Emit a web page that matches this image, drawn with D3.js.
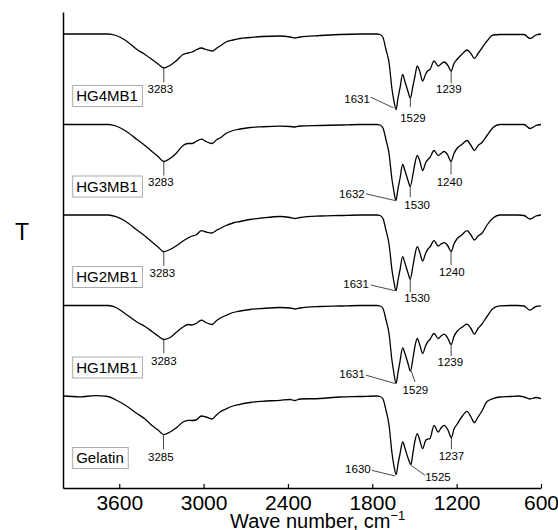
<!DOCTYPE html>
<html>
<head>
<meta charset="utf-8">
<script src="https://cdn.jsdelivr.net/npm/d3@7/dist/d3.min.js"></script>
<style>
  html, body { margin: 0; padding: 0; background: #fff; }
  svg { display: block; }
  text { font-family: "Liberation Sans", Arial, Helvetica, sans-serif; fill: #000; }
</style>
</head>
<body>
<svg id="chart" width="558" height="530"></svg>
<script>
// FTIR spectra of gelatin and the HGxMB1 hydrogels, stacked with a vertical offset.

// Wavenumber grid (cm-1) shared by all spectra
const wavenumbers = [4000,3879,3772,3680,3623,3559,3474,3417,3367,3324,3282,3239,3196,3146,3111,3082,3054,3015,2983,2940,2905,2883,2841,2791,2741,2670,2585,2456,2385,2350,2314,2172,2030,1887,1767,1745,1724,1703,1681,1660,1646,1631,1617,1603,1584,1568,1546,1529,1511,1497,1480,1461,1442,1420,1404,1390,1361,1331,1311,1288,1262,1239,1219,1198,1164,1126,1098,1074,1048,1020,984,941,892,820,763,721,678,636,600];

// Transmittance (a.u., baseline ~100) for each sample on the grid above
const tGelatin = [100,99.2,100.3,99.5,96,91,82.5,77,70.5,66,61.4,64,68,74,75.7,75.5,76,80,79,77,81.5,84,87,90,91.7,93.5,94.7,95.7,96.5,95.5,97,97.5,99,99.5,100,99.5,97,86,71,43,30,21.4,32,42,54,48,38,31.4,43,55,62.4,55,47.4,55.7,57,57.4,70.7,64,68,70.7,66,58.4,67,71.5,79,84.7,79,73.4,79,85,94.5,97.4,99,99.5,100,99,97,98.5,97.4];
const tHG1MB1 = [100,100,100,100,98,92,83.5,79,74,69.5,66,68,73,78.5,81,80.5,82,85.3,83,81,85.3,87.3,90,93,94.5,96,97,98,97.5,96.5,97.5,99,99.5,100,100,99.5,97,86,72,45,32,22,33,44,57.6,52,42,34.3,47,59,67,60,52,60,64,66,72,67,69.5,71.3,67,61,69,74,78,81.3,77,71.3,77,81.5,89,97,99.6,100,100,99.5,95.3,99,99.6];
const tHG2MB1 = [100,100,100,100,98.3,94,85,79,73,68,63.3,65.5,69,74,77,79,80,84.3,83,82,85,86.5,89.5,92,93.5,95.5,97,98.5,97.5,96.5,97.5,99,99.5,100,100,99.5,96.5,85,71,45,33,24.3,35,45,58.3,52,42,36,49,60,68.3,62,54,62,66,68,74.3,69,71,72.3,69,63.3,71,76,80,84.3,80,75,79,81.7,90,97,100,100,100,99.5,96,99,100];
const tHG3MB1 = [100,100,100,100,98.5,94,85,79,73,68,63,66,71,79,81,81,83,85.3,83,81,85,86.5,91,94,95.5,97,97.7,98.3,98,97.5,98.5,99,99.5,100,100,99.5,96.5,85,71,45,33,24,36,46,60,54,44,38,50,61,69,63,54,62,65,67,74,69,71,73,69,63,71,76,80,84,79,74,79,82,89,97,100,100,100,100,96,99,100];
const tHG4MB1 = [100,100,100,100,98.5,94,84.5,79.5,74.5,70,66,68.5,73,79.5,81,82,84,86,84.5,83,86,88,92,94,95.5,96.5,97.5,98,97,96,97,98.5,99.5,100,100,99.5,96.5,84.5,71.5,45,33,24.5,36,46,59.5,52.5,42.5,36,48,57.5,68,62,53,60,63.5,64.5,73,68,70,72,68.5,63,70.5,74.5,79.5,84,80.5,75.5,80.5,86,93,99,99.5,99.5,99.5,99.5,95.5,99,100];

// Labelled band positions (cm-1) for each sample
const peaksGelatin = [3285, 1630, 1525, 1237];
const peaksHG1MB1 = [3283, 1631, 1529, 1239];
const peaksHG2MB1 = [3283, 1631, 1530, 1240];
const peaksHG3MB1 = [3283, 1632, 1530, 1240];
const peaksHG4MB1 = [3283, 1631, 1529, 1239];

const sampleNames = ["Gelatin", "HG1MB1", "HG2MB1", "HG3MB1", "HG4MB1"];
const stackOffsets = [0, 90.5, 181, 271.5, 362];
const xTicks = [3600, 3000, 2400, 1800, 1200, 600];

// Annotation placement, relative to the band minimum: leader [x1,y1,x2,y2], text [x,y]
const annotationLayout = {
  "Gelatin": [
    {line: [0, 0, 0, 14.7], text: [-2.7, 26.2]},
    {line: [-1, 1.4, -24.4, -4.3], text: [-38.3, -1.3]},
    {line: [0, 0.7, 14, 10.7], text: [27, 16.4]},
    {line: [0, 0, 0, 11.7], text: [0, 22.7]}
  ],
  "HG1MB1": [
    {line: [0, 0, 0, 13.7], text: [0, 25.2]},
    {line: [-1, 0, -30, -8.3], text: [-44, -5.3]},
    {line: [1, 0, 4.6, 10.7], text: [5, 23]},
    {line: [0, 0, 0, 11.7], text: [-0.8, 21.7]}
  ],
  "HG2MB1": [
    {line: [0, 0, 0, 14.3], text: [-1.5, 24.8]},
    {line: [-1, 0, -25.3, -5.7], text: [-40, -2.7]},
    {line: [0, 0, 0, 13], text: [6.9, 22.7]},
    {line: [0, 0, 0, 13.3], text: [0.8, 24.3]}
  ],
  "HG3MB1": [
    {line: [0, 0, 0, 14], text: [-3, 24]},
    {line: [-1, 0, -30, -6.7], text: [-44, -3]},
    {line: [0, 0, 0, 10.7], text: [6.9, 22.5]},
    {line: [0, 0, 0, 13], text: [-1.5, 24]}
  ],
  "HG4MB1": [
    {line: [0, 0, 0, 14.5], text: [-3.5, 24.7]},
    {line: [-2.7, -1.7, -25.3, -12.3], text: [-39, -7]},
    {line: [0, 0, 0, 9], text: [2.6, 24.2]},
    {line: [0, 0, 0, 12.3], text: [-2.3, 22.3]}
  ]
};

const transmittance = [tGelatin, tHG1MB1, tHG2MB1, tHG3MB1, tHG4MB1];
const peaks = [peaksGelatin, peaksHG1MB1, peaksHG2MB1, peaksHG3MB1, peaksHG4MB1];

const svg = d3.select("#chart");
const x = d3.scaleLinear().domain([4000, 600]).range([63, 541]);
const y = d3.scaleLinear().domain([8, 484]).range([488, 12]);

// Build each spectrum; the grid point nearest a labelled band takes that band's wavenumber
const spectra = sampleNames.map((name, s) => {
  const pts = wavenumbers.map((w, i) => ({w: w, t: transmittance[s][i]}));
  const minima = peaks[s].map(p => {
    let best = 0;
    pts.forEach((d, i) => { if (Math.abs(d.w - p) < Math.abs(pts[best].w - p)) best = i; });
    pts[best].w = p;
    return pts[best];
  });
  return {name, offset: stackOffsets[s], pts, minima};
});

const line = d3.line()
  .x(d => x(d.w))
  .curve(d3.curveMonotoneX);

const g = svg.append("g");

spectra.forEach(sp => {
  g.append("path")
    .datum(sp.pts)
    .attr("fill", "none")
    .attr("stroke", "#000")
    .attr("stroke-width", 1.3)
    .attr("stroke-linejoin", "round")
    .attr("d", line.y(d => y(d.t + sp.offset)));

  // band annotations
  sp.minima.forEach((m, k) => {
    const lay = annotationLayout[sp.name][k];
    const px = x(m.w), py = y(m.t + sp.offset);
    g.append("line")
      .attr("x1", px + lay.line[0]).attr("y1", py + lay.line[1])
      .attr("x2", px + lay.line[2]).attr("y2", py + lay.line[3])
      .attr("stroke", "#333").attr("stroke-width", 0.9);
    g.append("text")
      .attr("x", px + lay.text[0]).attr("y", py + lay.text[1])
      .attr("text-anchor", "middle")
      .attr("font-size", "11.5px")
      .text(String(m.w));
  });

  // sample name in a box
  const base = y(100 + sp.offset);
  const box = g.append("g").attr("transform", `translate(72.7,${base + 51.5})`);
  const rect = box.append("rect").attr("height", 21)
    .attr("fill", "#fff").attr("stroke", "#aaa").attr("stroke-width", 1);
  const label = box.append("text").attr("x", 3.5).attr("y", 15.8)
    .attr("font-size", "15px").text(sp.name);
  rect.attr("width", label.node().getComputedTextLength() + 8);
});

// axes
const xAxis = d3.axisBottom(x).tickValues(xTicks).tickSizeInner(-4).tickSizeOuter(0).tickPadding(7)
  .tickFormat(d3.format("d"));
const gx = svg.append("g").attr("transform", "translate(0,488)").call(xAxis);
gx.select(".domain").attr("stroke", "#000").attr("stroke-width", 1.5);
gx.selectAll(".tick line").attr("stroke", "#000").attr("stroke-width", 1.2);
gx.selectAll(".tick text").attr("font-size", "21px").attr("font-family", null).attr("fill", "#000");

const gy = svg.append("g").attr("transform", "translate(63,0)")
  .call(d3.axisLeft(y).tickValues([]).tickSizeOuter(0));
gy.select(".domain").attr("stroke", "#000").attr("stroke-width", 1.5);

// axis titles
const xt = svg.append("text").attr("x", 230).attr("y", 528).attr("font-size", "20px");
xt.append("tspan").text("Wave number, cm");
xt.append("tspan").attr("font-size", "13px").attr("dy", -8).text("\u22121");

svg.append("text").attr("x", 22).attr("y", 239.5).attr("text-anchor", "middle")
  .attr("font-size", "23px").text("T");
</script>
</body>
</html>
